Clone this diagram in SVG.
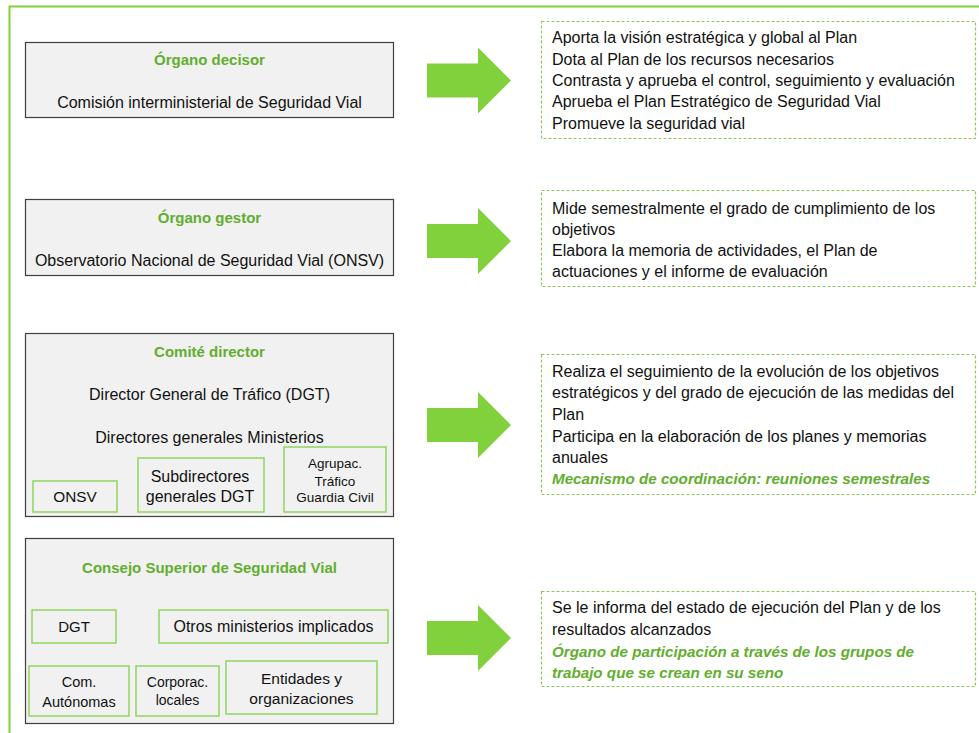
<svg xmlns="http://www.w3.org/2000/svg" width="979" height="733" viewBox="0 0 979 733">
<style>
text{font-family:"Liberation Sans",Arial,sans-serif;fill:#111;}
.t{font-size:16px;}
.c{text-anchor:middle;}
.h{font-weight:bold;fill:#62AE2E;font-size:15px;text-anchor:middle;}
.gi{font-weight:bold;font-style:italic;fill:#62AE2E;font-size:15.2px;}
.box{fill:#F1F1F1;stroke:#3F3F3F;stroke-width:1.2;}
.ib{fill:#F1F1F1;stroke:#8FD460;stroke-width:1.5;}
.dash{fill:#FFFFFF;stroke:#8CC85C;stroke-width:1.2;stroke-dasharray:3 2;}
.arr{fill:#80D13C;}
.frame{stroke:#80D13C;stroke-width:2;fill:none;}
</style>
<rect width="979" height="733" fill="#FFFFFF"/>
<path class="frame" d="M9.5 733 V6.5 H979"/>

<g id="organo-decisor">
<rect class="box" x="25.5" y="42.5" width="368" height="75"/>
<text class="h" x="209.5" y="64.5">Órgano decisor</text>
<text class="t c" x="209.5" y="107.5">Comisión interministerial de Seguridad Vial</text>
</g>

<g id="organo-gestor">
<rect class="box" x="25.5" y="199.5" width="368" height="76"/>
<text class="h" x="209.5" y="222.5">Órgano gestor</text>
<text class="t c" x="209.5" y="265.5">Observatorio Nacional de Seguridad Vial (ONSV)</text>
</g>

<g id="comite-director">
<rect class="box" x="25.5" y="333.5" width="368" height="183"/>
<text class="h" x="209.5" y="356.5">Comité director</text>
<text class="t c" x="209.5" y="399.5">Director General de Tráfico (DGT)</text>
<text class="t c" x="209.5" y="442.5">Directores generales Ministerios</text>
</g>
<g id="cd-onsv">
<rect class="ib" x="33" y="481" width="84" height="31"/>
<text class="c" x="75" y="502" font-size="15.4">ONSV</text>
</g>
<g id="cd-subdirectores">
<rect class="ib" x="138" y="458" width="126" height="54"/>
<text class="t c" x="200" y="481.5">Subdirectores</text>
<text class="t c" x="200" y="501.5">generales DGT</text>
</g>
<g id="cd-agrupac">
<rect class="ib" x="284" y="447" width="102" height="65"/>
<text class="c" x="335" y="468" font-size="13.5">Agrupac.</text>
<text class="c" x="335" y="486" font-size="13.5">Tráfico</text>
<text class="c" x="335" y="502" font-size="13.5">Guardia Civil</text>
</g>

<g id="consejo-superior">
<rect class="box" x="25.5" y="538.5" width="368" height="185"/>
<text class="h" x="209.5" y="572.5">Consejo Superior de Seguridad Vial</text>
</g>
<g id="cs-dgt">
<rect class="ib" x="32" y="610" width="84" height="33"/>
<text class="c" x="74" y="631.5" font-size="15">DGT</text>
</g>
<g id="cs-otros">
<rect class="ib" x="159" y="610" width="229" height="33"/>
<text class="t c" x="273.5" y="632">Otros ministerios implicados</text>
</g>
<g id="cs-com">
<rect class="ib" x="29" y="666" width="100" height="50"/>
<text class="c" x="79" y="687" font-size="14.5">Com.</text>
<text class="c" x="79" y="707" font-size="14.5">Autónomas</text>
</g>
<g id="cs-corporac">
<rect class="ib" x="136" y="666" width="83" height="50"/>
<text class="c" x="177.5" y="687" font-size="14">Corporac.</text>
<text class="c" x="177.5" y="705" font-size="14">locales</text>
</g>
<g id="cs-entidades">
<rect class="ib" x="226" y="661" width="151" height="53"/>
<text class="c" x="301.5" y="683.5" font-size="15.5">Entidades y</text>
<text class="c" x="301.5" y="703.5" font-size="15.5">organizaciones</text>
</g>

<g id="connectors">
<path class="arr" d="M427 63.5 H478 V47.5 L511 80.5 L478 113.5 V97.5 H427 Z"/>
<path class="arr" d="M427 224 H478 V208 L511 241 L478 274 V258 H427 Z"/>
<path class="arr" d="M427 408 H478 V392 L511 425 L478 458 V442 H427 Z"/>
<path class="arr" d="M427 621 H478 V605 L511 638 L478 671 V655 H427 Z"/>
</g>

<g id="desc-decisor">
<rect class="dash" x="541.5" y="21.5" width="434" height="117"/>
<text class="t" x="552" y="42.5">Aporta la visión estratégica y global al Plan</text>
<text class="t" x="552" y="64.5">Dota al Plan de los recursos necesarios</text>
<text class="t" x="552" y="85.5">Contrasta y aprueba el control, seguimiento y evaluación</text>
<text class="t" x="552" y="106.5">Aprueba el Plan Estratégico de Seguridad Vial</text>
<text class="t" x="552" y="128.5">Promueve la seguridad vial</text>
</g>

<g id="desc-gestor">
<rect class="dash" x="541.5" y="190.5" width="434" height="96"/>
<text class="t" x="552" y="213.5">Mide semestralmente el grado de cumplimiento de los</text>
<text class="t" x="552" y="234.5">objetivos</text>
<text class="t" x="552" y="255.5">Elabora la memoria de actividades, el Plan de</text>
<text class="t" x="552" y="276.5">actuaciones y el informe de evaluación</text>
</g>

<g id="desc-comite">
<rect class="dash" x="541.5" y="354.5" width="434" height="140"/>
<text class="t" x="552" y="376.5">Realiza el seguimiento de la evolución de los objetivos</text>
<text class="t" x="552" y="397.5">estratégicos y del grado de ejecución de las medidas del</text>
<text class="t" x="552" y="419.5">Plan</text>
<text class="t" x="552" y="441.5">Participa en la elaboración de los planes y memorias</text>
<text class="t" x="552" y="462.5">anuales</text>
<text class="gi" x="552" y="483.5">Mecanismo de coordinación: reuniones semestrales</text>
</g>

<g id="desc-consejo">
<rect class="dash" x="541.5" y="591.5" width="434" height="95"/>
<text class="t" x="552" y="612.5">Se le informa del estado de ejecución del Plan y de los</text>
<text class="t" x="552" y="634.5">resultados alcanzados</text>
<text class="gi" x="552" y="656.5">Órgano de participación a través de los grupos de</text>
<text class="gi" x="552" y="677.5">trabajo que se crean en su seno</text>
</g>
</svg>
